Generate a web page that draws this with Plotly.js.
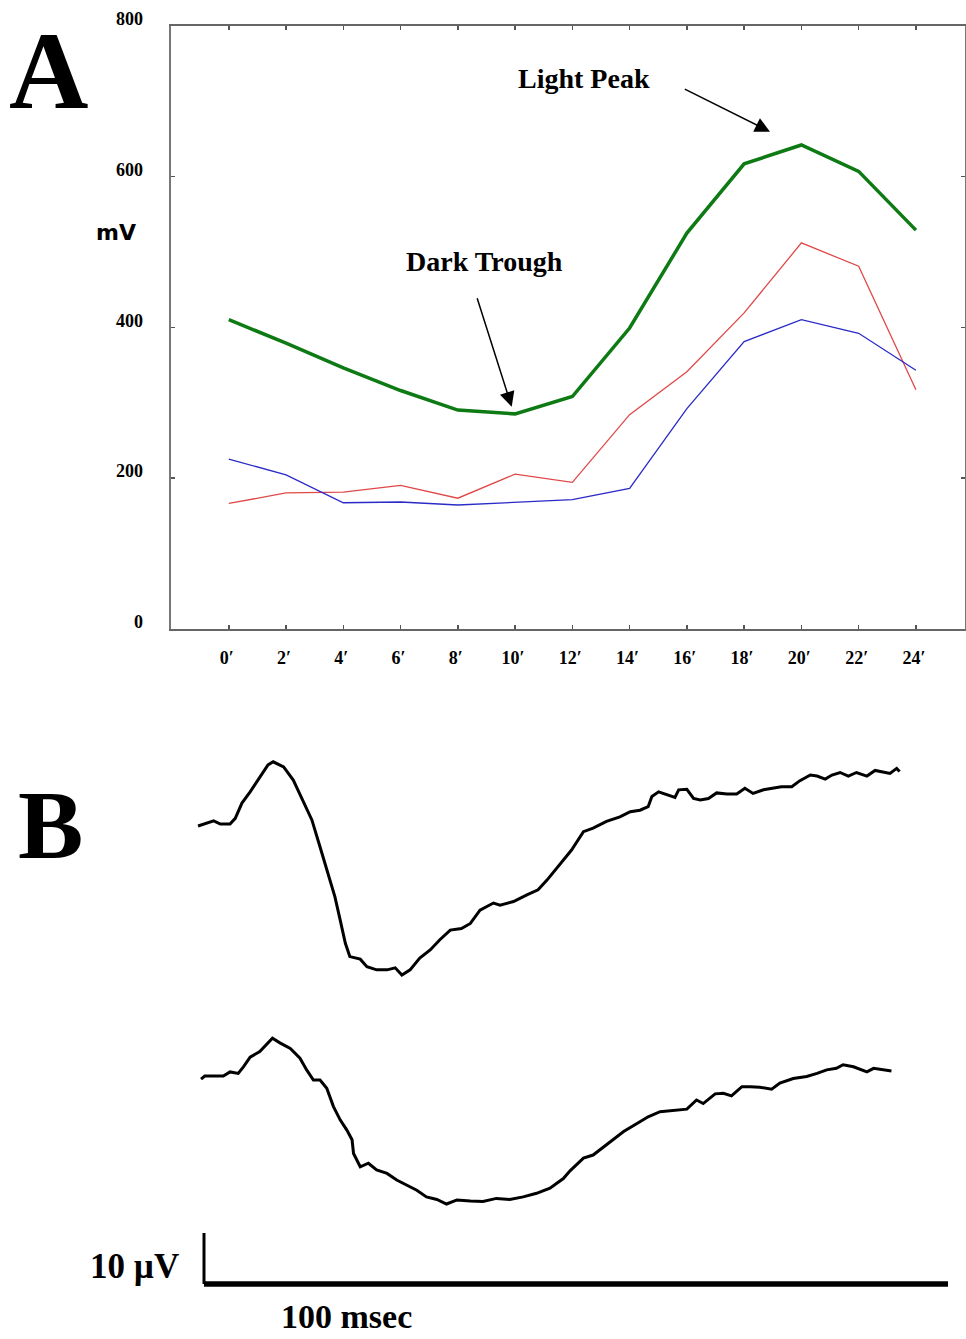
<!DOCTYPE html>
<html>
<head>
<meta charset="utf-8">
<script src="https://cdn.plot.ly/plotly-3.0.1.min.js"></script>
<style>html,body{margin:0;padding:0;background:#fff;}#chart{width:966px;height:1339px;}</style>
</head>
<body>
<div id="chart"></div>
<script>
// ---------- Panel A data (mV vs minutes) ----------
const minutes = [0, 2, 4, 6, 8, 10, 12, 14, 16, 18, 20, 22, 24];
const tickLabels = ["0′", "2′", "4′", "6′", "8′", "10′", "12′", "14′", "16′", "18′", "20′", "22′", "24′"];
const greenMean = [410, 379, 346, 316, 290, 285, 308, 399, 525, 617, 642, 607, 529];
const redSeries = [166, 180, 181, 190, 173, 205, 194, 284, 341, 419, 512, 481, 317];
const blueSeries = [225, 204, 167, 168, 164, 167, 171, 186, 292, 381, 410, 392, 343];
const yTicks = [0, 200, 400, 600, 800];

// ---------- Panel B data (µV vs msec) ----------
const trace1Time = [-0.8, 0.4, 1.3, 2.2, 3.5, 4.2, 5.1, 6.2, 7.5, 8.6, 9.3, 10.7, 12.0, 13.3, 14.5, 15.6, 16.7, 17.6, 18.3, 19.0, 19.6, 21.0, 21.9, 23.2, 24.6, 25.7, 26.6, 27.7, 29.0, 30.4, 31.7, 33.1, 34.6, 35.8, 37.1, 38.9, 39.8, 41.6, 43.4, 44.9, 46.1, 47.8, 49.4, 51.0, 52.3, 54.1, 55.9, 57.3, 58.6, 59.7, 60.2, 61.1, 62.2, 63.3, 63.8, 64.9, 65.8, 66.7, 67.8, 68.9, 70.3, 71.6, 72.7, 73.8, 75.2, 76.5, 77.6, 79.0, 80.1, 81.5, 82.4, 83.5, 84.4, 85.5, 86.6, 87.7, 89.1, 90.2, 91.3, 92.2, 93.1, 93.5];
const trace1Amp = [-0.4, 0.1, 0.6, 0.0, 0.0, 1.1, 4.1, 6.3, 9.3, 11.6, 12.2, 11.2, 8.6, 4.7, 0.8, -4.5, -9.7, -14.3, -18.8, -23.4, -26.0, -26.5, -28.0, -28.6, -28.6, -28.2, -29.6, -28.6, -26.3, -24.7, -22.7, -20.8, -20.5, -19.5, -16.9, -15.5, -15.9, -15.2, -13.9, -12.9, -11.0, -8.0, -5.1, -1.5, -0.8, 0.5, 1.4, 2.4, 2.7, 3.4, 5.4, 6.3, 5.7, 5.2, 6.7, 6.8, 5.0, 4.7, 5.0, 6.1, 5.9, 5.9, 7.0, 6.0, 6.7, 7.0, 7.3, 7.3, 8.5, 9.6, 9.4, 8.8, 9.6, 10.1, 9.4, 10.1, 9.4, 10.5, 10.1, 9.9, 10.9, 10.3];
const trace2Time = [-0.4, 0.1, 1.3, 2.6, 3.5, 4.6, 5.3, 6.2, 7.5, 8.5, 9.2, 10.2, 11.6, 12.9, 13.8, 14.7, 15.6, 16.5, 17.4, 18.3, 19.2, 19.9, 20.1, 21.0, 22.1, 23.2, 24.6, 25.9, 27.2, 28.6, 29.9, 31.3, 32.6, 34.0, 35.8, 37.5, 39.3, 41.1, 42.9, 44.7, 46.5, 48.3, 49.2, 51.0, 52.3, 54.1, 56.4, 58.2, 59.7, 61.3, 63.1, 64.9, 66.2, 67.1, 68.7, 69.8, 70.9, 72.3, 73.4, 74.7, 76.3, 77.4, 79.2, 81.0, 82.4, 83.7, 85.0, 85.9, 87.3, 89.1, 90.0, 91.3, 92.4];
const trace2Amp = [-0.6, 0.0, 0.0, 0.0, 0.8, 0.5, 1.8, 3.7, 4.8, 6.4, 7.4, 6.5, 5.4, 3.5, 1.2, -0.8, -0.8, -2.4, -6.0, -8.6, -10.6, -12.5, -15.2, -17.8, -17.1, -18.4, -19.1, -20.4, -21.4, -22.4, -23.7, -24.2, -25.1, -24.3, -24.5, -24.6, -24.0, -24.2, -23.7, -23.0, -22.0, -20.1, -18.6, -16.1, -15.5, -13.5, -10.9, -9.3, -8.0, -7.0, -6.7, -6.5, -4.7, -5.4, -3.5, -3.4, -3.9, -2.1, -2.1, -2.2, -2.6, -1.4, -0.5, -0.1, 0.5, 1.2, 1.5, 2.2, 1.8, 0.8, 1.5, 1.3, 1.0];
const scaleTime = [0, 100];   // msec
const scaleAmp = [0, 10];     // µV

// ---------- geometry helpers (pixels -> paper) ----------
const W = 966, H = 1339;
const px = v => v / W;
const py = v => 1 - v / H;

// Panel A pixel frame
const A_left = 171, A_right = 965, A_top = 26, A_bottom = 628.5;
const x0px = 228.8, minPx = 28.63;           // 0' position, px per minute
// Panel B scales
const bT0 = 204, bPxPerMs = 7.44, bPxPerUv = 5.1;
function yRange(basePx, topPx, botPx) { return [(basePx - botPx) / bPxPerUv, (basePx - topPx) / bPxPerUv]; }

const serif = "Liberation Serif, Times New Roman, serif";

const data = [
  {x: minutes, y: redSeries, mode: "lines", line: {color: "#e04848", width: 1.3}, xaxis: "x", yaxis: "y", hoverinfo: "skip"},
  {x: minutes, y: blueSeries, mode: "lines", line: {color: "#2a2ac8", width: 1.3}, xaxis: "x", yaxis: "y", hoverinfo: "skip"},
  {x: minutes, y: greenMean, mode: "lines", line: {color: "#0d7a14", width: 3.5}, xaxis: "x", yaxis: "y", hoverinfo: "skip"},
  {x: trace1Time, y: trace1Amp, mode: "lines", line: {color: "#000", width: 3}, xaxis: "x2", yaxis: "y2", hoverinfo: "skip"},
  {x: trace2Time, y: trace2Amp, mode: "lines", line: {color: "#000", width: 3}, xaxis: "x2", yaxis: "y3", hoverinfo: "skip"},
  {x: [scaleTime[0], scaleTime[0]], y: [scaleAmp[1], scaleAmp[0]], mode: "lines", line: {color: "#000", width: 3}, xaxis: "x2", yaxis: "y4", hoverinfo: "skip"},
  {x: scaleTime, y: [scaleAmp[0], scaleAmp[0]], mode: "lines", line: {color: "#000", width: 5.5}, xaxis: "x2", yaxis: "y4", hoverinfo: "skip"}
];

const tickFont = {family: serif, size: 18, color: "#000", weight: "bold"};

const layout = {
  width: W, height: H,
  margin: {l: 0, r: 0, t: 0, b: 0, pad: 0},
  paper_bgcolor: "#fff", plot_bgcolor: "rgba(0,0,0,0)",
  showlegend: false,
  xaxis: {
    domain: [px(A_left), px(A_right)],
    range: [(A_left - x0px) / minPx, (A_right - x0px) / minPx],
    tickvals: minutes, ticktext: tickLabels,
    ticks: "inside", ticklen: 4, tickwidth: 1.5, tickcolor: "#555",
    showline: true, linecolor: "#666", linewidth: 2, mirror: "ticks",
    showgrid: false, zeroline: false,
    tickfont: tickFont, ticklabelstandoff: 12, ticklabelshift: -2,
    anchor: "y"
  },
  yaxis: {
    domain: [py(A_bottom), py(A_top)],
    range: [0, 800],
    tickvals: yTicks,
    ticks: "inside", ticklen: 4, tickwidth: 1.5, tickcolor: "#555",
    showline: true, linecolor: "#777", linewidth: 2.5, mirror: "ticks",
    showgrid: false, zeroline: false,
    tickfont: tickFont, ticklabelstandoff: 22, ticklabelshift: -7,
    anchor: "x"
  },
  xaxis2: {domain: [0, 1], range: [(0 - bT0) / bPxPerMs, (W - bT0) / bPxPerMs], visible: false, anchor: "y2"},
  yaxis2: {domain: [py(990), py(740)], range: yRange(824, 740, 990), visible: false, anchor: "x2"},
  yaxis3: {domain: [py(1220), py(1020)], range: yRange(1076, 1020, 1220), visible: false, anchor: "x2"},
  yaxis4: {domain: [py(1300), py(1225)], range: yRange(1284, 1225, 1300), visible: false, anchor: "x2"},
  annotations: [
    {text: "A", xref: "paper", yref: "paper", x: px(48), y: py(71), xanchor: "center", yanchor: "middle", showarrow: false, font: {family: serif, size: 110, color: "#000", weight: "bold"}},
    {text: "B", xref: "paper", yref: "paper", x: px(50), y: py(825), xanchor: "center", yanchor: "middle", showarrow: false, font: {family: serif, size: 98, color: "#000", weight: "bold"}},
    {text: "mV", xref: "paper", yref: "paper", x: px(116), y: py(232), xanchor: "center", yanchor: "middle", showarrow: false, font: {family: "DejaVu Sans, sans-serif", size: 22, color: "#000", weight: "bold"}},
    {text: "Light Peak", xref: "paper", yref: "paper", x: px(583.5), y: py(79), xanchor: "center", yanchor: "middle", showarrow: false, font: {family: serif, size: 28, color: "#000", weight: "bold"}},
    {text: "Dark Trough", xref: "paper", yref: "paper", x: px(484.5), y: py(262), xanchor: "center", yanchor: "middle", showarrow: false, font: {family: serif, size: 28, color: "#000", weight: "bold"}},
    {text: "", xref: "paper", yref: "paper", x: px(770), y: py(131.7), axref: "pixel", ayref: "pixel", ax: -(770 - 683.3), ay: -(131.7 - 88.3), showarrow: true, arrowhead: 2, arrowsize: 2, arrowwidth: 1.5, arrowcolor: "#000", standoff: 0},
    {text: "", xref: "paper", yref: "paper", x: px(511.7), y: py(406.7), axref: "pixel", ayref: "pixel", ax: -(511.7 - 476.7), ay: -(406.7 - 296.7), showarrow: true, arrowhead: 2, arrowsize: 2, arrowwidth: 1.5, arrowcolor: "#000", standoff: 0},
    {text: "10 µV", xref: "paper", yref: "paper", x: px(181), y: py(1266), xanchor: "right", yanchor: "middle", showarrow: false, font: {family: serif, size: 35, color: "#000", weight: "bold"}},
    {text: "100 msec", xref: "paper", yref: "paper", x: px(279), y: py(1316), xanchor: "left", yanchor: "middle", showarrow: false, font: {family: serif, size: 34, color: "#000", weight: "bold"}}
  ]
};

Plotly.newPlot("chart", data, layout, {staticPlot: true, displayModeBar: false});
</script>
</body>
</html>
